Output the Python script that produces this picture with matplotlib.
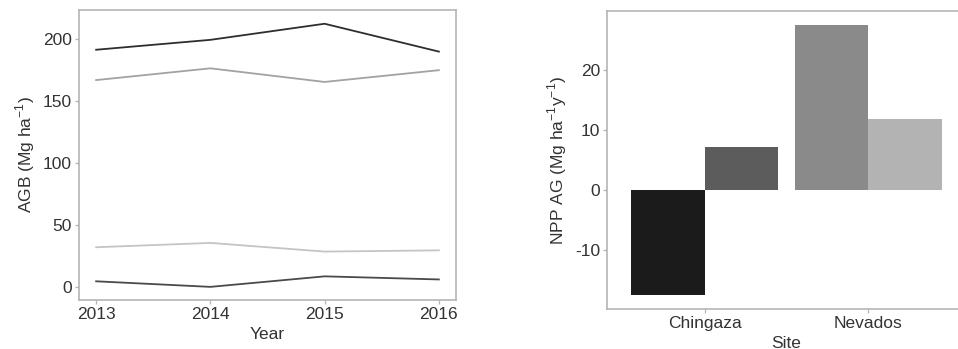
import matplotlib
matplotlib.use("Agg")
import matplotlib.pyplot as plt
import numpy as np

plt.rcParams['font.family'] = ['Liberation Sans', 'DejaVu Sans']
plt.rcParams['mathtext.fontset'] = 'custom'
plt.rcParams['mathtext.rm'] = 'Liberation Sans'
plt.rcParams['axes.unicode_minus'] = False

# Aboveground biomass per plot, by census year
years = [2013, 2014, 2015, 2016]
agb_plot1 = [191.5, 199.5, 212.5, 190.0]
agb_plot2 = [167.0, 176.5, 165.5, 175.0]
agb_plot3 = [32.0, 35.5, 28.5, 29.5]
agb_plot4 = [4.5, 0.0, 8.5, 6.0]
agb_colors = ['#2e2e2e', '#a2a2a2', '#c4c4c4', '#4a4a4a']

# Aboveground NPP per site (two plots each)
sites = ['Chingaza', 'Nevados']
npp_plot_a = [-17.5, 27.6]
npp_plot_b = [7.3, 11.9]
npp_colors_a = ['#1b1b1b', '#8a8a8a']
npp_colors_b = ['#5c5c5c', '#b3b3b3']

text_color = '#333333'
frame_color = '#b5b5b5'
fs = 12.5

W, H = 958, 349
fig = plt.figure(figsize=(W / 100, H / 100), dpi=100)


def px_axes(x0, y0, x1, y1):
    # axes box given in pixel coordinates (origin top-left)
    return fig.add_axes([x0 / W, 1 - y1 / H, (x1 - x0) / W, (y1 - y0) / H])


def style(ax):
    for s in ax.spines.values():
        s.set_color(frame_color)
        s.set_linewidth(1.2)
    ax.tick_params(colors=frame_color, labelcolor=text_color, labelsize=fs,
                   length=3, width=0.9, pad=2)


# left: AGB time series
ax1 = px_axes(79, 10, 456, 300)
for vals, c in zip([agb_plot1, agb_plot2, agb_plot3, agb_plot4], agb_colors):
    ax1.plot(years, vals, color=c, lw=1.3)
ax1.set_xlim(2012.85, 2016.15)
ax1.set_ylim(-10.6, 223.6)
ax1.set_xticks(years)
ax1.set_yticks([0, 50, 100, 150, 200])
ax1.set_xlabel('Year', fontsize=fs, color=text_color, labelpad=3.5)
ax1.set_ylabel(r'AGB (Mg ha$^{-1}$)', fontsize=fs, color=text_color, labelpad=4)
style(ax1)

# right: NPP bars, dodged within each site
ax2 = px_axes(607, 11, 966, 309)
x = np.arange(1, len(sites) + 1)
bw = 0.45
ax2.bar(x - bw / 2, npp_plot_a, width=bw, color=npp_colors_a)
ax2.bar(x + bw / 2, npp_plot_b, width=bw, color=npp_colors_b)
ax2.set_xlim(0.4, 2.6)
ax2.set_ylim(-19.8, 29.9)
ax2.set_xticks(x)
ax2.set_xticklabels(sites)
ax2.set_yticks([-10, 0, 10, 20])
ax2.set_xlabel('Site', fontsize=fs, color=text_color, labelpad=3.5)
ax2.set_ylabel(r'NPP AG (Mg ha$^{-1}$y$^{-1}$)', fontsize=fs, color=text_color, labelpad=4)
style(ax2)

fig.savefig('out.png', dpi=100, facecolor='white')
